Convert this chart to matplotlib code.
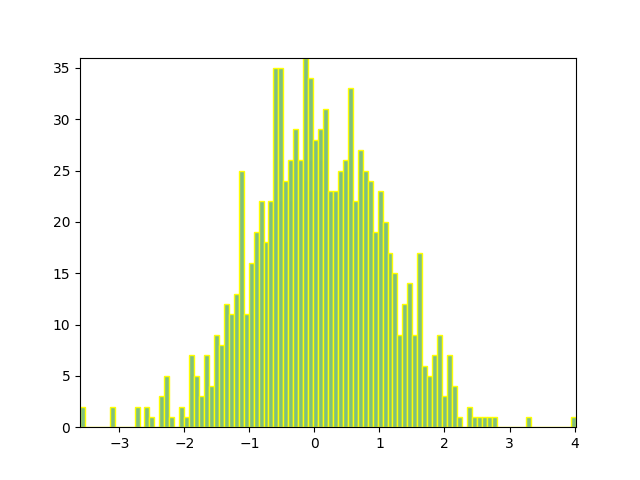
import matplotlib
matplotlib.use("Agg")
import matplotlib.pyplot as plt
import numpy as np

# histogram range and counts per bin (100 bins)
x_min = -3.604
x_max = 4.022
counts = [
    2, 0, 0, 0, 0, 0, 2, 0, 0, 0,
    0, 2, 0, 2, 1, 0, 3, 5, 1, 0,
    2, 1, 7, 5, 3, 7, 4, 9, 8, 12,
    11, 13, 25, 11, 16, 19, 22, 18, 22, 35,
    35, 24, 26, 29, 26, 36, 34, 28, 29, 31,
    23, 23, 25, 26, 33, 22, 27, 25, 24, 19,
    23, 20, 17, 15, 9, 12, 14, 9, 17, 6,
    5, 7, 9, 3, 7, 4, 1, 0, 2, 1,
    1, 1, 1, 1, 0, 0, 0, 0, 0, 0,
    1, 0, 0, 0, 0, 0, 0, 0, 0, 1,
]

edges = np.linspace(x_min, x_max, len(counts) + 1)
centers = (edges[:-1] + edges[1:]) / 2

fig, ax = plt.subplots(figsize=(6.4, 4.8), dpi=100)
ax.hist(centers, bins=edges, weights=counts, facecolor='#7fbf7f',
        edgecolor='yellow', linewidth=1)
ax.margins(0)
fig.savefig("out.png")
